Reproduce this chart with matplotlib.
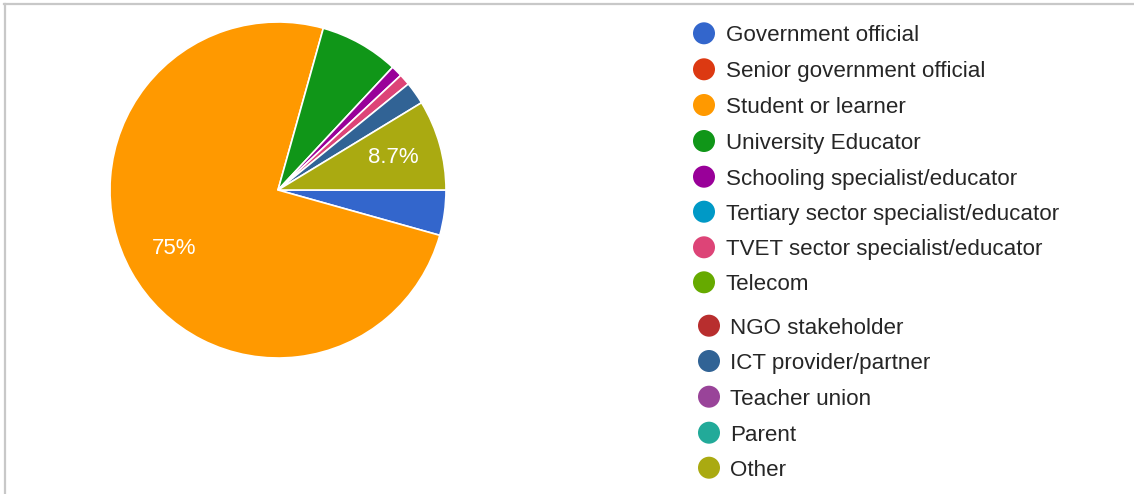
import matplotlib
matplotlib.use("Agg")
import matplotlib.pyplot as plt
from matplotlib.patches import Circle
from matplotlib.lines import Line2D

plt.rcParams["font.family"] = ["Liberation Sans", "DejaVu Sans"]

# Respondent roles and counts
categories = [
    "Government official",
    "Senior government official",
    "Student or learner",
    "University Educator",
    "Schooling specialist/educator",
    "Tertiary sector specialist/educator",
    "TVET sector specialist/educator",
    "Telecom",
    "NGO stakeholder",
    "ICT provider/partner",
    "Teacher union",
    "Parent",
    "Other",
]
counts = [4, 0, 69, 7, 1, 0, 1, 0, 0, 2, 0, 0, 8]
colors = [
    "#3366cc", "#dc3912", "#ff9900", "#109618", "#990099", "#0099c6",
    "#dd4477", "#66aa00", "#b82e2e", "#316395", "#994499", "#22aa99",
    "#aaaa11",
]

W, H = 1134, 494
fig = plt.figure(figsize=(W / 100, H / 100), dpi=100)
fig.patch.set_facecolor("white")

# Pie placement in pixels
cx, cy, r = 278, 190, 168
ax = fig.add_axes([(cx - r) / W, (H - cy - r) / H, 2 * r / W, 2 * r / H])
ax.axis("off")

vals = [c for c in counts if c > 0]
cols = [col for c, col in zip(counts, colors) if c > 0]


def fmt(pct):
    if pct < 8:
        return ""
    return f"{pct:.0f}%" if pct >= 10 else f"{pct:.1f}%"


wedges, texts, autotexts = ax.pie(
    vals, colors=cols, startangle=0, counterclock=False, radius=1,
    autopct=fmt, pctdistance=0.71,
    wedgeprops=dict(edgecolor="white", linewidth=1.2),
    textprops=dict(color="white", fontsize=16),
)
ax.set_xlim(-1, 1)
ax.set_ylim(-1, 1)
ax.set_aspect("equal")

# Overlay in pixel coordinates for legend and frame
ov = fig.add_axes([0, 0, 1, 1])
ov.set_xlim(0, W)
ov.set_ylim(H, 0)
ov.axis("off")
ov.patch.set_alpha(0)

# Frame lines on the top and left edges
ov.add_line(Line2D([4, W], [4, 4], color="#c8c8c8", linewidth=1.6))
ov.add_line(Line2D([5, 5], [4, H], color="#c8c8c8", linewidth=1.6))

row_y = [33.3, 69.3, 105, 141, 176.7, 211.7, 247.3, 282.3,
         325.7, 361, 396.7, 432.7, 467.7]
for i, (lab, col, y) in enumerate(zip(categories, colors, row_y)):
    mx, tx = (704, 726) if i < 8 else (709, 730)
    ov.add_patch(Circle((mx, y), 11, facecolor=col, edgecolor="none"))
    ov.text(tx, y, lab, fontsize=16.1, color="#262626", va="center_baseline", ha="left")

fig.savefig("out.png", dpi=100, facecolor="white")
